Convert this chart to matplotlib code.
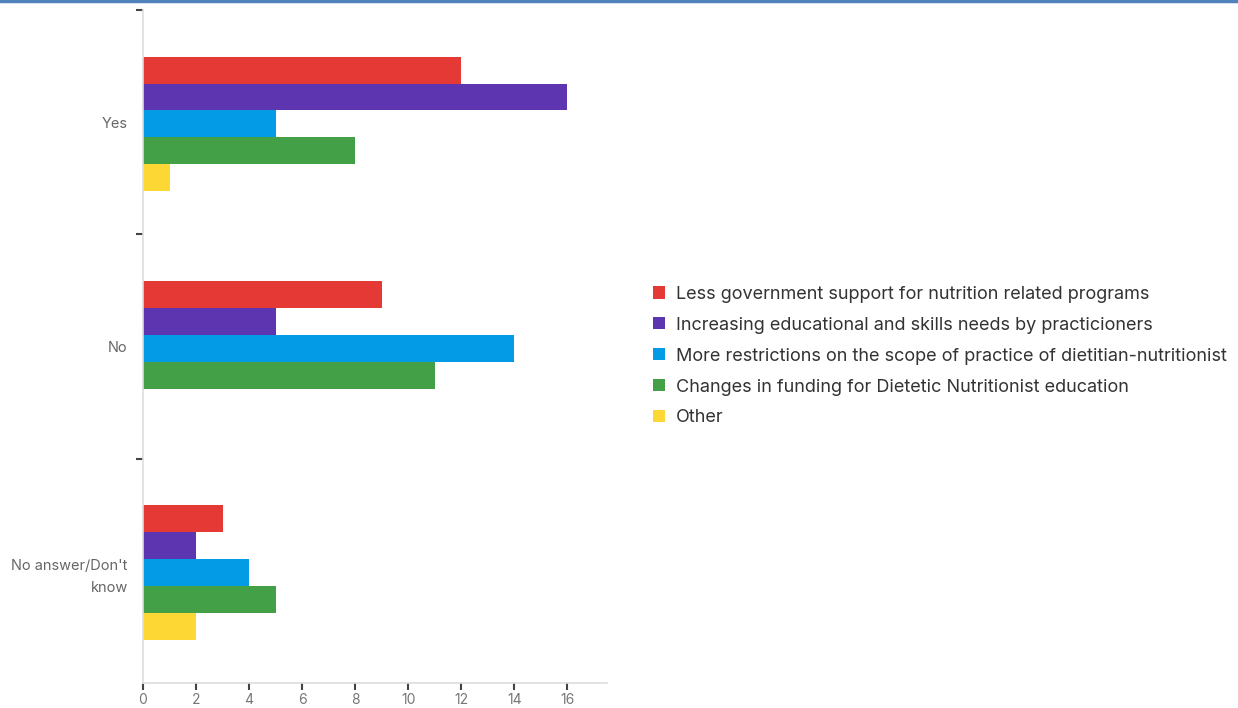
import numpy as np
import matplotlib.pyplot as plt
from matplotlib.patches import Patch
from matplotlib.lines import Line2D

categories = ['Yes', 'No', "No answer/Don't\nknow"]
series_names = ['Less government support for nutrition related programs',
                'Increasing educational and skills needs by practicioners',
                'More restrictions on the scope of practice of dietitian-nutritionist',
                'Changes in funding for Dietetic Nutritionist education',
                'Other']
less_gov = [12, 9, 3]
edu_needs = [16, 5, 2]
restrictions = [5, 14, 4]
funding = [8, 11, 5]
other = [1, 0, 2]
colors = ['#E53935', '#5E35B1', '#039BE5', '#43A047', '#FDD835']
xticks = [0, 2, 4, 6, 8, 10, 12, 14, 16]

plt.rcParams['font.family'] = ['Inter', 'DejaVu Sans']

fig = plt.figure(figsize=(12.38, 7.08), dpi=100)
ax = fig.add_axes([0.1155, 0.035, 0.3748, 0.951])

y = np.arange(len(categories))
h = 0.12
all_series = [less_gov, edu_needs, restrictions, funding, other]
for i, vals in enumerate(all_series):
    ax.barh(y + (i - 2) * h + 0.008, vals, height=h, color=colors[i], label=series_names[i])

ax.set_ylim(2.5, -0.5)
ax.set_xlim(0, 17.5)
ax.set_yticks(y)
ax.set_yticklabels(categories, ha='right', color='#666666', fontsize=10.5, linespacing=1.75)
ax.tick_params(axis='y', which='major', length=0, pad=11)
ax.set_yticks([-0.5, 0.5, 1.5], minor=True)
ax.tick_params(axis='y', which='minor', length=5, width=1.5, color='#444444')
ax.set_xticks(xticks)
ax.tick_params(axis='x', length=5, width=1.5, color='#444444', labelcolor='#777777',
               labelsize=10, pad=2)
for s in ['top', 'right']:
    ax.spines[s].set_visible(False)
for s in ['left', 'bottom']:
    ax.spines[s].set_color('#dddddd')
    ax.spines[s].set_linewidth(1.2)

handles = [Patch(facecolor=c, edgecolor='none') for c in colors]
fig.legend(handles, series_names, loc='center left', bbox_to_anchor=(0.5145, 0.497),
           frameon=False, fontsize=13, labelcolor='#333333', handlelength=0.66,
           handleheight=0.66, handletextpad=0.6, labelspacing=0.77)

# blue border line at the top
fig.add_artist(Line2D([0, 1], [0.998, 0.998], color='#4F81BD', linewidth=2.5))

fig.savefig('out.png', dpi=100)
